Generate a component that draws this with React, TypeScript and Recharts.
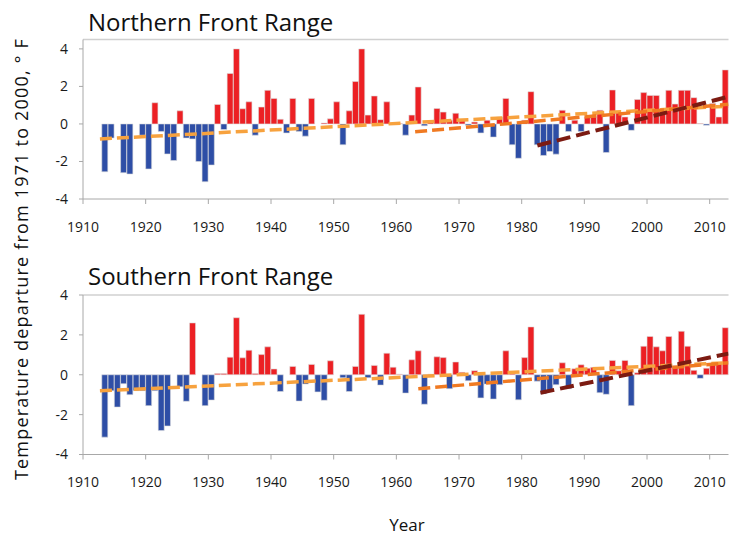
import React from "react";
import { ComposedChart, Bar, Line, XAxis, YAxis, Cell, ReferenceLine } from "recharts";

const leadingEmptyYears = [1910, 1911, 1912];

const years = [
  1913, 1914, 1915, 1916, 1917, 1918, 1919, 1920, 1921, 1922,
  1923, 1924, 1925, 1926, 1927, 1928, 1929, 1930, 1931, 1932,
  1933, 1934, 1935, 1936, 1937, 1938, 1939, 1940, 1941, 1942,
  1943, 1944, 1945, 1946, 1947, 1948, 1949, 1950, 1951, 1952,
  1953, 1954, 1955, 1956, 1957, 1958, 1959, 1960, 1961, 1962,
  1963, 1964, 1965, 1966, 1967, 1968, 1969, 1970, 1971, 1972,
  1973, 1974, 1975, 1976, 1977, 1978, 1979, 1980, 1981, 1982,
  1983, 1984, 1985, 1986, 1987, 1988, 1989, 1990, 1991, 1992,
  1993, 1994, 1995, 1996, 1997, 1998, 1999, 2000, 2001, 2002,
  2003, 2004, 2005, 2006, 2007, 2008, 2009, 2010, 2011, 2012,
];

const northValues = [
  -2.55, -0.75, 0, -2.6, -2.67, 0, -0.6, -2.4, 1.13, -0.4,
  -1.6, -1.95, 0.7, -0.75, -0.8, -2.0, -3.08, -2.19, 1.04, -0.3,
  2.69, 4.0, 0.81, 1.18, -0.6, 0.9, 1.79, 1.36, 0.25, -0.48,
  1.36, -0.4, -0.65, 1.36, 0, 0.05, 0.27, 1.18, -1.11, 0.7,
  2.26, 4.0, 0.47, 1.49, 0.23, 1.18, 0.05, 0.02, -0.6, 0.47,
  1.97, -0.1, 0.1, 0.82, 0.63, 0.2, 0.57, 0.23, -0.07, 0.1,
  -0.48, 0.2, -0.7, 0.37, 1.36, -1.11, -1.83, 0.2, 1.72, -1.11,
  -1.68, -1.47, -1.61, 0.73, -0.4, 0.2, -0.4, 0.37, 0.37, 0.73,
  -1.52, 1.81, 0.63, 0.37, -0.34, 1.3, 1.67, 1.52, 1.52, 0.77,
  1.79, 1.06, 1.79, 1.79, 1.4, 0.02, -0.07, 1.09, 0.37, 2.88,
];

const southValues = [
  -3.13, -0.8, -1.62, -0.45, -1.0, -0.8, -0.8, -1.55, -0.8, -2.8,
  -2.57, 0, -0.6, -1.33, 2.6, 0, -1.55, -1.27, 0.06, 0.06,
  0.88, 2.86, 0.85, 1.23, 0.06, 1.01, 1.4, 0.29, -0.84, 0,
  0.42, -1.32, -0.47, 0.52, -0.86, -1.28, 0.7, 0, -0.15, -0.84,
  0.42, 3.03, -0.15, 0.47, -0.52, 1.08, 0.38, 0.03, -0.92, 0.75,
  1.2, -1.48, 0.03, 0.9, 0.86, -0.7, 0.64, 0.12, -0.3, 0.2,
  -1.16, -0.47, -1.22, -0.5, 1.2, 0.15, -1.26, 0.86, 2.4, -0.32,
  -0.96, -0.8, -0.5, 0.6, -0.7, 0.3, 0.5, 0.33, 0.37, -0.9,
  -0.98, 0.72, 0.2, 0.72, -1.55, 0.1, 1.43, 1.92, 1.4, 1.2,
  1.92, 0.45, 2.18, 1.43, 0.22, -0.18, 0.33, 0.58, 0.58, 2.36,
];

const decadeTicks = [1910, 1920, 1930, 1940, 1950, 1960, 1970, 1980, 1990, 2000, 2010];
const valueTicks = [-4, -2, 0, 2, 4];

const northTrendLong = [{ x: 1912.7, y: -0.8 }, { x: 2013, y: 0.95 }];
const northTrendMid = [{ x: 1963, y: -0.42 }, { x: 2013, y: 1.05 }];
const northTrendRecent = [{ x: 1982.5, y: -1.15 }, { x: 2013, y: 1.45 }];

const southTrendLong = [{ x: 1912.7, y: -0.8 }, { x: 2013, y: 0.6 }];
const southTrendMid = [{ x: 1963.5, y: -0.7 }, { x: 2013, y: 0.6 }];
const southTrendRecent = [{ x: 1983, y: -0.9 }, { x: 2013, y: 1.06 }];

const FONT = "'Open Sans', 'DejaVu Sans', sans-serif";
const RED = "#ec2024";
const BLUE = "#2e4ea6";
const LIGHT_ORANGE = "#f7a23e";
const DARK_ORANGE = "#f07a22";
const DARK_RED = "#7c1b12";

type Pt = { x: number; y: number };

function Panel(props: {
  values: number[];
  yTop: number;
  height: number;
  marginTop: number;
  marginBottom: number;
  trendLong: Pt[];
  trendMid: Pt[];
  trendRecent: Pt[];
}) {
  const { values, yTop, height, marginTop, marginBottom, trendLong, trendMid, trendRecent } = props;
  const data = [
    ...leadingEmptyYears.map((yr) => ({ year: yr, v: null as number | null })),
    ...years.map((yr, i) => ({ year: yr, v: values[i] as number | null })),
  ];
  const tickStyle = { fontSize: 14, fill: "#1a1a1a", fontFamily: FONT };
  return (
    <ComposedChart
      width={730}
      height={height}
      data={data}
      barCategoryGap={0}
      barGap={0}
      margin={{ top: marginTop, right: 1.5, left: 0, bottom: marginBottom }}
    >
      <XAxis xAxisId="cat" type="category" dataKey="year" hide height={0} />
      <XAxis
        xAxisId="num"
        type="number"
        dataKey="x"
        domain={[1910, 2013]}
        ticks={decadeTicks}
        interval={0}
        allowDataOverflow
        height={30}
        tickSize={5}
        tickMargin={18}
        stroke="#a8a8a8"
        tick={tickStyle}
      />
      <YAxis
        yAxisId="left"
        domain={[-4, yTop]}
        ticks={valueTicks}
        interval={0}
        allowDataOverflow
        width={83}
        tickSize={4}
        tickMargin={11}
        stroke="#a8a8a8"
        tick={tickStyle}
      />
      <YAxis
        yAxisId="right"
        orientation="right"
        domain={[-4, yTop]}
        ticks={valueTicks}
        interval={0}
        allowDataOverflow
        width={0}
        mirror
        tick={false}
        tickSize={6}
        stroke="#333"
      />
      <ReferenceLine xAxisId="num" yAxisId="left" y={yTop} stroke="#d0d0d0" strokeWidth={1.5} />
      <Bar
        xAxisId="cat"
        yAxisId="left"
        dataKey="v"
        isAnimationActive={false}
        stroke="#dedede"
        strokeWidth={0.6}
      >
        {data.map((d, i) => (
          <Cell key={i} fill={(d.v ?? 0) >= 0 ? RED : BLUE} />
        ))}
      </Bar>
      <Line
        xAxisId="num"
        yAxisId="left"
        data={trendLong}
        dataKey="y"
        type="linear"
        stroke={LIGHT_ORANGE}
        strokeWidth={3.5}
        strokeDasharray="12 5"
        dot={false}
        activeDot={false}
        isAnimationActive={false}
      />
      <Line
        xAxisId="num"
        yAxisId="left"
        data={trendMid}
        dataKey="y"
        type="linear"
        stroke={DARK_ORANGE}
        strokeWidth={3.5}
        strokeDasharray="12 5"
        dot={false}
        activeDot={false}
        isAnimationActive={false}
      />
      <Line
        xAxisId="num"
        yAxisId="left"
        data={trendRecent}
        dataKey="y"
        type="linear"
        stroke={DARK_RED}
        strokeWidth={4}
        strokeDasharray="14 6"
        dot={false}
        activeDot={false}
        isAnimationActive={false}
      />
    </ComposedChart>
  );
}

export default function App() {
  const titleStyle: React.CSSProperties = {
    position: "absolute",
    left: 88,
    fontFamily: FONT,
    fontSize: 24,
    lineHeight: "24px",
    color: "#111",
    whiteSpace: "nowrap",
  };
  return (
    <div style={{ position: "absolute", left: 0, top: 0, width: 730, height: 535, background: "#fff", overflow: "hidden" }}>
      <div style={{ position: "absolute", left: 0, top: 0 }}>
        <Panel
          values={northValues}
          yTop={4.5}
          height={245}
          marginTop={39.5}
          marginBottom={16}
          trendLong={northTrendLong}
          trendMid={northTrendMid}
          trendRecent={northTrendRecent}
        />
      </div>
      <div style={{ position: "absolute", left: 0, top: 250 }}>
        <Panel
          values={southValues}
          yTop={4}
          height={285}
          marginTop={45}
          marginBottom={50.5}
          trendLong={southTrendLong}
          trendMid={southTrendMid}
          trendRecent={southTrendRecent}
        />
      </div>
      <div style={{ ...titleStyle, top: 10 }}>Northern Front Range</div>
      <div style={{ ...titleStyle, top: 264 }}>Southern Front Range</div>
      <div
        style={{
          position: "absolute",
          left: 21,
          top: 259,
          transform: "translate(-50%, -50%) rotate(-90deg)",
          fontFamily: FONT,
          fontSize: 18,
          letterSpacing: 1.2,
          color: "#111",
          whiteSpace: "nowrap",
        }}
      >
        Temperature departure from 1971 to 2000, ° F
      </div>
      <div
        style={{
          position: "absolute",
          left: 407,
          top: 524,
          transform: "translate(-50%, -50%)",
          fontFamily: FONT,
          fontSize: 17,
          color: "#111",
          whiteSpace: "nowrap",
        }}
      >
        Year
      </div>
    </div>
  );
}
